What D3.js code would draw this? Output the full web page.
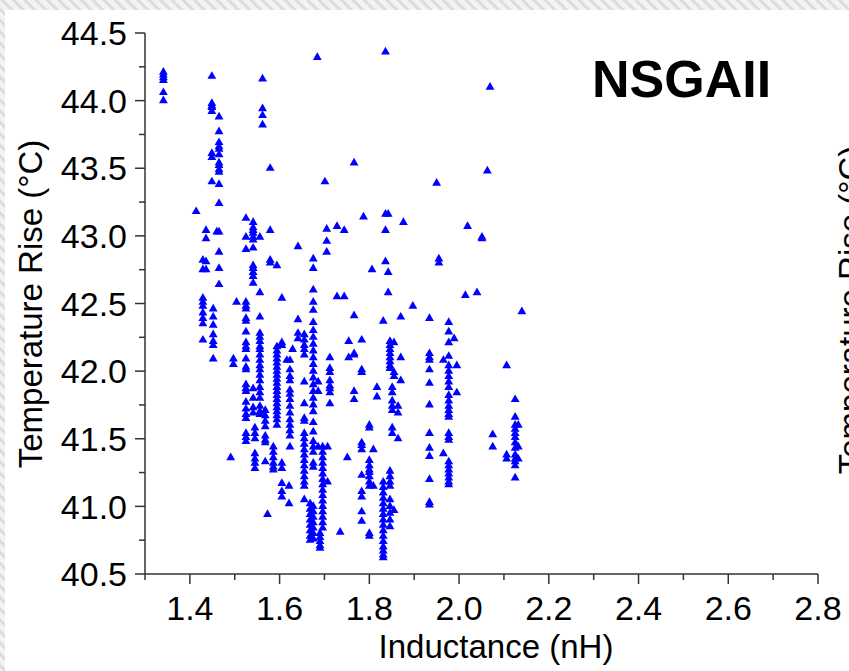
<!DOCTYPE html>
<html><head><meta charset="utf-8">
<script src="https://cdn.jsdelivr.net/npm/d3@7"></script>
<style>body{margin:0;background:#fff}svg{display:block}</style>
</head><body>
<svg id="chart" width="849" height="671"></svg>
<script>
// ---- data ----
const xTicks = [1.4, 1.6, 1.8, 2.0, 2.2, 2.4, 2.6, 2.8];
const yTicks = [40.5, 41.0, 41.5, 42.0, 42.5, 43.0, 43.5, 44.0, 44.5];
const xLabel = "Inductance (nH)";
const yLabel = "Temperature Rise (°C)";
const title = "NSGAII";

// inductance of each column of points
const colInductance = [1.341,1.414,1.429,1.436,1.449,1.452,1.460,1.465,1.491,1.497,1.504,1.525,1.541,1.545,1.556,1.562,1.568,1.573,1.579,1.586,1.594,1.605,1.616,1.621,1.623,1.629,1.641,1.655,1.668,1.675,1.684,1.686,1.690,1.696,1.701,1.705,1.707,1.712,1.728,1.735,1.744,1.751,1.754,1.766,1.783,1.787,1.800,1.806,1.809,1.817,1.831,1.836,1.842,1.846,1.851,1.855,1.864,1.870,1.876,1.897,1.934,1.950,1.955,1.965,1.977,1.989,1.995,2.014,2.019,2.040,2.051,2.063,2.069,2.075,2.106,2.125,2.132,2.140];
// temperature rise values in each column
const colTempRise = [
[44.21,44.19,44.17,44.15,44.06,44.00],
[43.18],
[42.82,42.75,42.54,42.51,42.48,42.43,42.39,42.35,42.23],
[43.04,42.98,42.81,42.75],
[44.18,43.98,43.96,43.95,43.92,43.61,43.58,43.40],
[42.46,42.40,42.34,42.27,42.22,42.19,42.09],
[43.03],
[43.88,43.77,43.69,43.66,43.64,43.60,43.54,43.52,43.49,43.47,43.38,43.24,43.03,42.88,42.76,42.64],
[41.36],
[42.09,42.05],
[42.51],
[43.13,42.99,42.90,42.51,42.48,42.46,42.39,42.37,42.29,42.21,42.18,42.16,42.09,42.03,42.01,41.90,41.87,41.85,41.77,41.72,41.68,41.65,41.54,41.51,41.48],
[43.10,43.06,43.04,43.02,42.99,42.97,42.91,42.78,42.76,42.73,42.70,42.65,41.87,41.80,41.73,41.69],
[41.58,41.54,41.50,41.39,41.35,41.32,41.28],
[42.99,42.58,42.40,42.28,42.25,42.22,42.18,42.16,42.12,42.08,42.04,42.01,41.97,41.93,41.88,41.84,41.80,41.74,41.70,41.68],
[44.16,43.94,43.89,43.82],
[41.71,41.67,41.63,41.59,41.52,41.49,41.47,41.33],
[40.94],
[43.50,43.04,42.82,42.80],
[41.44,41.40,41.36,41.32,41.29,41.27],
[42.78,42.18,42.15,42.12,42.09,42.06,42.03,42.00,41.97,41.94,41.91,41.88,41.85,41.82,41.79,41.76,41.73,41.70,41.67,41.64,41.60],
[42.54,42.21,42.19,41.32,41.28,41.17,41.11,41.07],
[42.08],
[41.15,41.02],
[42.08,42.01,41.96,41.93,41.86,41.83,41.79,41.74,41.69,41.64,41.60,41.56,41.52,41.44],
[42.16],
[42.92,42.38,42.28,42.24],
[42.27,42.23,42.19,42.16,42.12,41.92,41.76,41.65,41.63,41.54,41.50,41.46,41.42,41.38,41.34,41.30,41.26,41.22,41.18,41.15,41.05],
[41.02,40.98,40.94,40.90,40.86,40.82,40.78,40.75],
[42.83,42.76,42.60,42.51,42.45,42.36,42.30,42.25,42.20,42.15,42.10,42.05,42.00,41.95,41.90,41.85,41.80,41.75,41.70,41.62,41.55,41.48,41.44,41.40,41.32,41.29,41.00,40.96,40.92,40.88,40.84,40.80,40.76],
[44.32],
[41.92,41.85,41.44],
[40.80,40.77,40.74,40.71,40.69],
[41.44,41.40,41.36,41.32,41.28,41.24,41.20,41.16,41.12,41.08,41.04,41.00,40.96,40.92,40.88,40.84],
[43.40],
[43.05,42.96,42.88],
[41.44,41.18],
[42.10,42.02,41.99,41.93,41.89,41.87,41.84,41.76],
[43.07,42.55],
[40.81],
[43.04,42.55],
[41.36],
[42.22,42.10],
[43.54,42.41,42.13,42.12,41.85,41.79],
[42.23,42.01,41.99,41.47,41.45,41.42,41.23,41.11,41.07,40.96,40.89],
[43.14],
[41.60,41.58,41.34,41.30,41.27,41.25,41.22,41.18,41.15,40.80,40.78],
[42.75],
[41.42,41.15],
[41.88,41.81],
[42.37,41.18,41.14,41.10,41.06,41.02,40.98,40.94,40.90,40.86,40.82,40.78,40.74,40.70,40.67,40.64,40.62],
[44.36,43.16,43.04,42.81],
[43.16,42.73,42.58],
[42.22,42.19,42.16,42.13,42.10,42.07,42.04,42.02,41.26,41.22,41.18,41.15,41.05,41.00,40.95,40.90,40.85],
[41.88,41.84,41.78,41.74,41.71,41.58,41.54],
[42.21,41.99,41.96,40.97],
[41.74,41.69,41.50],
[42.40,42.10,41.93],
[43.10],
[42.48],
[42.39,42.13,42.10,42.08,42.01,41.91,41.75,41.54,41.43,41.37,41.20,41.03,41.01],
[43.39],
[42.83,42.80],
[42.08,41.39],
[42.36,42.29,42.21,42.11,42.04,42.00,41.96,41.92,41.88,41.82,41.78,41.74,41.71,41.68,41.66,41.54,41.51,41.49,41.33,41.30,41.27,41.24,41.21,41.18,41.16],
[42.24],
[42.04,41.84],
[42.56],
[43.07],
[42.58],
[42.99,42.98],
[43.48],
[44.10],
[41.53,41.44],
[42.04,41.38,41.35],
[41.79,41.66,41.60,41.57,41.54,41.51,41.47,41.43,41.38,41.35,41.33,41.30,41.21],
[41.60,41.44,41.35],
[42.44]
];

const points = [];
colInductance.forEach((L, i) => colTempRise[i].forEach(T => points.push({L, T})));

// ---- drawing ----
const svg = d3.select("#chart");
const W = 849, H = 671;
const defs = svg.append("defs");
const pat = defs.append("pattern").attr("id","hatch").attr("patternUnits","userSpaceOnUse")
  .attr("width",8).attr("height",8).attr("patternTransform","rotate(-45)");
pat.append("rect").attr("width",8).attr("height",8).attr("fill","#f3f3f3");
pat.append("rect").attr("width",3).attr("height",8).attr("fill","#dcdcdc");
svg.append("rect").attr("width",W).attr("height",H).attr("fill","url(#hatch)");
svg.append("rect").attr("x",5).attr("y",10).attr("width",W-5).attr("height",H-10).attr("fill","#fff");

const x = d3.scaleLinear().domain([1.3, 2.8]).range([145, 818]);
const y = d3.scaleLinear().domain([40.5, 44.5]).range([574, 33]);

const font = "'Liberation Sans', Arial, sans-serif";
const axisColor = "#333";

// x axis
const xMinor = d3.range(13, 29).map(v => v / 10);
const gx = svg.append("g").attr("transform", `translate(0,${y(40.5)})`);
gx.append("line").attr("x1", x(1.3)).attr("x2", x(2.8)).attr("stroke", axisColor).attr("stroke-width", 1.5);
gx.selectAll("line.mt").data(xMinor).join("line").attr("class","mt")
  .attr("x1", d => x(d)).attr("x2", d => x(d)).attr("y1", 0)
  .attr("y2", d => xTicks.some(t => Math.abs(t - d) < 1e-9) ? 10 : 6)
  .attr("stroke", axisColor).attr("stroke-width", 1.5);
gx.selectAll("text").data(xTicks).join("text")
  .attr("x", d => x(d)).attr("y", 46).attr("text-anchor","middle")
  .attr("font-family", font).attr("font-size", 34).attr("fill","#000")
  .text(d => d.toFixed(1));

// y axis
const yMinor = d3.range(0, 17).map(i => 40.5 + i * 0.25);
const gy = svg.append("g").attr("transform", `translate(${x(1.3)},0)`);
gy.append("line").attr("y1", y(40.5)).attr("y2", y(44.5)).attr("stroke", axisColor).attr("stroke-width", 1.5);
gy.selectAll("line.mt").data(yMinor).join("line").attr("class","mt")
  .attr("y1", d => y(d)).attr("y2", d => y(d)).attr("x1", 0)
  .attr("x2", d => yTicks.some(t => Math.abs(t - d) < 1e-9) ? -10 : -6)
  .attr("stroke", axisColor).attr("stroke-width", 1.5);
gy.selectAll("text").data(yTicks).join("text")
  .attr("x", -18).attr("y", d => y(d)).attr("dy", "0.36em").attr("text-anchor","end")
  .attr("font-family", font).attr("font-size", 34).attr("fill","#000")
  .text(d => d.toFixed(1));

// labels
svg.append("text").attr("x", 496).attr("y", 658).attr("text-anchor","middle")
  .attr("font-family", font).attr("font-size", 33).attr("fill","#000").text(xLabel);
svg.append("text").attr("transform","translate(42,304) rotate(-90)").attr("text-anchor","middle")
  .attr("font-family", font).attr("font-size", 33).attr("fill","#000").text(yLabel);
// neighbouring panel's axis title, cut by the right edge as in the reference
svg.append("text").attr("transform","translate(862,310) rotate(-90)").attr("text-anchor","middle")
  .attr("font-family", font).attr("font-size", 33).attr("fill","#000").text(yLabel);

svg.append("text").attr("x", 592).attr("y", 97)
  .attr("font-family", font).attr("font-size", 52).attr("font-weight","bold").attr("fill","#000").text(title);

// points
const tri = d3.symbol().type(d3.symbolTriangle).size(34);
svg.append("g").selectAll("path").data(points).join("path")
  .attr("transform", d => `translate(${x(d.L)},${y(d.T)})`)
  .attr("d", tri).attr("fill", "#0000ff");
</script>
</body></html>
